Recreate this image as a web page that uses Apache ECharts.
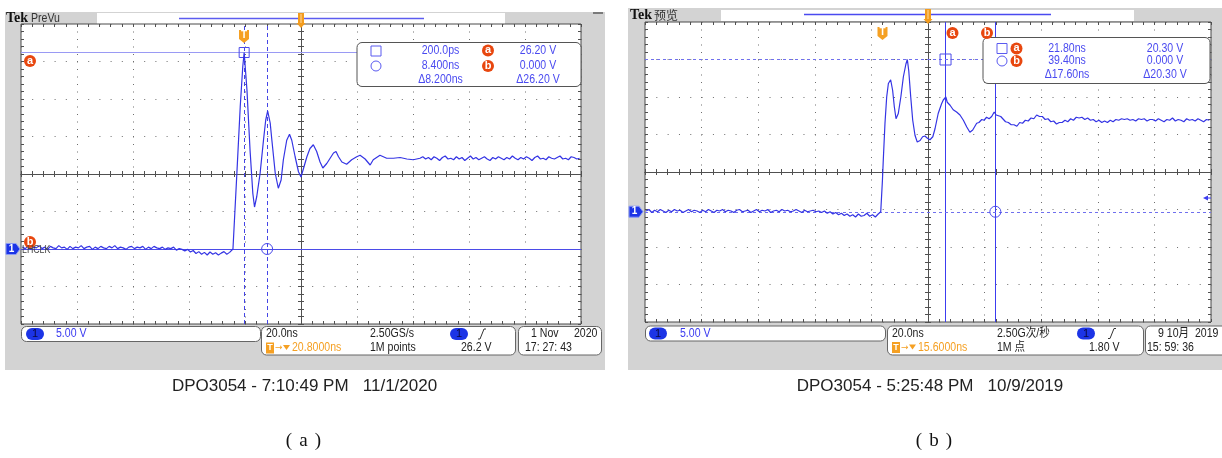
<!DOCTYPE html>
<html><head><meta charset="utf-8">
<script src="https://cdn.jsdelivr.net/npm/echarts@6/dist/echarts.min.js"></script>
<style>html,body{margin:0;padding:0;background:#fff}#c{width:1222px;height:458px}</style>
</head><body><div id="c"></div><script>
// ---------- DATA ----------
// (a) left scope: time in ns, voltage in V
const leftFlatT = [-79,-78,-77,-76,-75,-74,-73,-72,-71,-70,-69,-68,-67,-66,-65,-64,-63,-62,-61,-60,-59,-58,-57,-56,-55,-54,-53,-52,-51,-50,-49,-48,-47,-46,-45,-44,-43,-42,-41,-40,-39,-38,-37,-36,-35,-34,-33,-32,-31,-30,-29,-28,-27,-26,-25,-24,-23,-22,-21,-20,-19,-18,-17,-16,-15,-14,-13,-12,-11,-10,-9,-8,-7,-6,-5];
const leftFlatV = [0.25,0.05,0.35,-0.05,0.25,0.15,0.45,0.05,0.25,-0.05,0.35,0.15,0.05,0.45,0.15,0.25,-0.05,0.35,0.05,0.25,0.15,0.45,0.05,0.25,0.35,-0.05,0.25,0.05,0.35,0.15,0.05,0.35,0.15,0.45,0.05,0.25,0.15,-0.05,0.25,0.35,0.05,0.25,0.15,0.35,-0.05,0.25,0.05,0.35,0.15,0.05,0.25,-0.05,0.15,0.05,0.25,-0.15,0.05,-0.05,-0.25,-0.05,-0.4,-0.2,-0.6,-0.35,-0.7,-0.45,-0.8,-0.4,-0.7,-0.5,-0.8,-0.55,-0.35,-0.7,-0.45];
const leftEdgeT = [-3.8,-2.4,-1.2,-0.3,0.2,1.2,2.3,3.3,3.9,4.7,5.9,7.1,7.9,8.6,9.5,10.1,11.3,12.4,13.4,14.2,15.4,16.4,17.2,18.4,19.6,20.5,21.6,22.6,23.7,24.9,26.1,27.3,28.3,29.7,30.9,32.1,33.0,33.9,35.1,36.8,38.6,40.4,41.6,43.4,45.2,46.3,48.7,51.1,53.5,55.9,58.3,60.6,63.0];
const leftEdgeV = [0.0,10.1,19.0,24.3,26.2,21.2,13.2,7.4,5.6,7.0,10.1,14.5,17.2,18.4,16.8,14.5,10.1,8.1,9.2,11.9,14.5,15.3,14.5,12.3,10.3,9.6,11.0,12.3,13.4,13.9,13.0,11.6,10.8,11.4,12.1,12.8,13.0,12.3,11.6,11.3,11.9,12.3,12.5,12.0,11.2,11.9,12.5,12.1,12.1,12.2,12.0,11.9,12.1];
const leftTailT = [64,65,66,67,68,69,70,71,72,73,74,75,76,77,78,79,80,81,82,83,84,85,86,87,88,89,90,91,92,93,94,95,96,97,98,99,100,101,102,103,104,105,106,107,108,109,110,111,112,113,114,115,116,117,118,119,120];
const leftTailV = [12.3,12.0,12.2,11.9,12.3,12.1,11.8,12.2,12.4,12.0,12.1,11.9,12.3,12.0,12.2,11.8,12.1,12.4,12.0,12.2,11.9,12.1,12.3,12.0,11.8,12.2,12.0,12.3,12.1,11.9,12.2,12.0,12.4,12.1,11.9,12.2,12.0,12.3,12.1,11.8,12.2,12.4,12.0,12.1,11.9,12.3,12.1,12.0,12.2,12.4,12.0,12.1,11.9,12.3,12.2,12.0,12.1];
const leftCursorT = [0.2, 8.4];
const leftCursorV = [26.2, 0.0];
const leftTimeRange = [-79.5, 120.5];
const leftVoltRange = [-10, 30];

// (b) right scope
const rightFlatT = [-84,-83,-82,-81,-80,-79,-78,-77,-76,-75,-74,-73,-72,-71,-70,-69,-68,-67,-66,-65,-64,-63,-62,-61,-60,-59,-58,-57,-56,-55,-54,-53,-52,-51,-50,-49,-48,-47,-46,-45,-44,-43,-42,-41,-40,-39,-38,-37,-36,-35,-34,-33,-32,-31,-30,-29,-28,-27,-26,-25,-24,-23,-22,-21,-20,-19,-18,-17,-16,-15,-14,-13,-12,-11,-10,-9,-8,-7,-6,-5,-4,-3,-2];
const rightFlatV = [0.1,0.3,-0.1,0.2,0.0,0.3,0.1,-0.1,0.2,0.0,0.3,0.1,0.2,-0.1,0.1,0.3,0.0,0.2,0.1,-0.1,0.2,0.0,0.3,0.1,-0.1,0.2,0.1,0.3,0.0,0.2,0.1,-0.1,0.2,0.3,0.0,0.1,0.2,-0.1,0.1,0.3,0.0,0.2,0.1,0.3,-0.1,0.1,0.2,0.0,0.3,0.1,0.2,0.0,0.1,0.3,0.1,-0.1,0.2,0.0,0.1,0.2,0.0,0.1,-0.1,0.1,-0.2,0.0,-0.3,-0.1,-0.4,-0.2,-0.5,-0.3,-0.6,-0.4,-0.7,-0.3,-0.6,-0.5,-0.2,-0.6,-0.4,-0.7,-0.3];
const rightEdgeT = [-1.1,-0.5,-0.2,0.4,1.0,1.6,2.4,3.1,3.7,4.3,5.1,6.0,6.9,7.8,8.3,8.8,9.5,10.2,11.0,11.8,12.8,13.7,14.5,15.4,16.3,17.3,18.1,19.2,20.4,21.0,21.9,22.4,23.4,24.5,25.7,26.9,28.1,29.3,30.4,31.4,32.8,33.6,34.6,35.4,36.3,37.2,38.1,39.0,39.7,40.4,41.3];
const rightEdgeV = [0.0,4.2,6.9,11.8,15.3,17.1,17.6,16.2,14.0,12.4,13.1,15.3,18.0,19.7,20.3,18.8,15.3,12.2,10.2,9.3,9.5,10.0,10.1,9.8,9.6,10.0,11.1,13.1,14.4,14.9,15.3,14.6,14.2,13.6,13.3,12.9,12.2,11.3,10.6,10.9,11.8,11.9,12.3,12.2,12.6,12.4,12.7,13.3,12.9,13.1,12.7];
const rightTailT = [42,43,44,45,46,47,48,49,50,51,52,53,54,55,56,57,58,59,60,61,62,63,64,65,66,67,68,69,70,71,72,73,74,75,76,77,78,79,80,81,82,83,84,85,86,87,88,89,90,91,92,93,94,95,96,97,98,99,100,101,102,103,104,105,106,107,108,109,110,111,112,113,114,115];
const rightTailV = [12.5,12.0,11.9,11.6,11.6,11.4,11.9,11.8,12.2,12.1,12.5,12.4,12.9,12.7,12.7,12.3,12.4,12.0,12.1,11.7,11.9,11.9,12.2,12.0,12.4,12.2,12.6,12.5,12.6,12.3,12.5,12.2,12.3,12.0,12.2,11.9,12.1,11.9,12.2,12.0,12.3,12.2,12.4,12.3,12.4,12.2,12.3,12.1,12.4,12.3,12.4,12.1,12.3,12.3,12.1,12.4,12.2,12.0,12.3,12.2,12.5,12.1,12.3,12.2,12.0,12.4,12.2,12.3,12.1,12.4,12.2,12.0,12.3,12.2];
const rightCursorT = [21.8, 39.4];
const rightCursorV = [20.3, 0.0];
const rightTimeRange = [-84.4, 115.6];
const rightVoltRange = [-14.7, 25.3];

// readout texts
const leftReadTime = ['200.0ps', '8.400ns', '\u03948.200ns'];
const leftReadVolt = ['26.20 V', '0.000 V', '\u039426.20 V'];
const rightReadTime = ['21.80ns', '39.40ns', '\u039417.60ns'];
const rightReadVolt = ['20.30 V', '0.000 V', '\u039420.30 V'];

// ---------- BUILD ----------
function pairs(ts, vs) { return ts.map((t, i) => [t, vs[i]]); }
const leftData = pairs(leftFlatT, leftFlatV).concat(pairs(leftEdgeT, leftEdgeV), pairs(leftTailT, leftTailV));
const rightData = pairs(rightFlatT, rightFlatV).concat(pairs(rightEdgeT, rightEdgeV), pairs(rightTailT, rightTailV));

const SF = '"Liberation Sans",Arial,sans-serif';
const CJK = '"Liberation Sans","Noto Sans CJK SC",sans-serif';
const LINE = '#505050', DOT = '#6e6e6e';

function gratX(g, yCenterIdx, xr) {
  const tick = {show: true, length: 3, lineStyle: {color: LINE}};
  const minor = {show: true, splitNumber: 5, length: 3, lineStyle: {color: LINE}};
  const btick = {show: true, inside: true, length: 3, lineStyle: {color: LINE}};
  const bminor = {show: true, splitNumber: 5, length: 3, lineStyle: {color: LINE}};
  return [
    {gridIndex: g, type: 'value', min: xr[0], max: xr[1], show: false},
    {gridIndex: g, type: 'value', min: -5, max: 5, interval: 1, position: 'bottom',
     axisLine: {show: true, onZero: true, onZeroAxisIndex: yCenterIdx, lineStyle: {color: LINE, width: 1}},
     axisTick: tick, minorTick: minor, axisLabel: {show: false},
     splitLine: {show: true, lineStyle: {color: DOT, width: 1, type: [1, 6.5]}}},
    {gridIndex: g, type: 'value', min: -5, max: 5, interval: 1, position: 'top',
     axisLine: {show: true, onZero: true, onZeroAxisIndex: yCenterIdx, lineStyle: {color: LINE, width: 1}},
     axisTick: tick, minorTick: minor, axisLabel: {show: false}, splitLine: {show: false}},
    {gridIndex: g, type: 'value', min: -5, max: 5, interval: 1, position: 'bottom',
     axisLine: {show: false, onZero: false}, axisTick: btick, minorTick: bminor, axisLabel: {show: false}, splitLine: {show: false}},
    {gridIndex: g, type: 'value', min: -5, max: 5, interval: 1, position: 'top',
     axisLine: {show: false, onZero: false}, axisTick: btick, minorTick: bminor, axisLabel: {show: false}, splitLine: {show: false}}
  ];
}
function gratY(g, xCenterIdx, yr, dashW) {
  const tick = {show: true, length: 3, lineStyle: {color: LINE}};
  const minor = {show: true, splitNumber: 5, length: 3, lineStyle: {color: LINE}};
  const btick = {show: true, inside: true, length: 3, lineStyle: {color: LINE}};
  const bminor = {show: true, splitNumber: 5, length: 3, lineStyle: {color: LINE}};
  return [
    {gridIndex: g, type: 'value', min: yr[0], max: yr[1], show: false},
    {gridIndex: g, type: 'value', min: -4, max: 4, interval: 1, position: 'left',
     axisLine: {show: true, onZero: true, onZeroAxisIndex: xCenterIdx, lineStyle: {color: LINE, width: 1}},
     axisTick: tick, minorTick: minor, axisLabel: {show: false},
     splitLine: {show: true, lineStyle: {color: DOT, width: 1, type: [1, dashW]}}},
    {gridIndex: g, type: 'value', min: -4, max: 4, interval: 1, position: 'right',
     axisLine: {show: true, onZero: true, onZeroAxisIndex: xCenterIdx, lineStyle: {color: LINE, width: 1}},
     axisTick: tick, minorTick: minor, axisLabel: {show: false}, splitLine: {show: false}},
    {gridIndex: g, type: 'value', min: -4, max: 4, interval: 1, position: 'left',
     axisLine: {show: false, onZero: false}, axisTick: btick, minorTick: bminor, axisLabel: {show: false}, splitLine: {show: false}},
    {gridIndex: g, type: 'value', min: -4, max: 4, interval: 1, position: 'right',
     axisLine: {show: false, onZero: false}, axisTick: btick, minorTick: bminor, axisLabel: {show: false}, splitLine: {show: false}}
  ];
}

// ---------- graphic helpers ----------
const G = [];
function txt(x, y, text, o) {
  o = o || {};
  G.push({type: 'text', x: x, y: y, z: o.z || 60, silent: true, scaleX: o.sx == null ? 0.88 : o.sx,
    style: {text: text, fill: o.c || '#222', font: (o.w || 'normal') + ' ' + (o.s || 12) + 'px ' + (o.f || SF),
      align: o.a || 'left', textAlign: o.a || 'left', verticalAlign: 'middle', textVerticalAlign: 'middle'}});
}
function rect(x, y, w, h, o) {
  o = o || {};
  G.push({type: 'rect', z: o.z || 50, silent: true, shape: {x: x, y: y, width: w, height: h, r: o.r || 0},
    style: {fill: o.fill || null, stroke: o.stroke || null, lineWidth: o.lw || 1}});
}
function circ(cx, cy, r, o) {
  G.push({type: 'circle', z: o.z || 60, silent: true, shape: {cx: cx, cy: cy, r: r},
    style: {fill: o.fill || null, stroke: o.stroke || null, lineWidth: o.lw || 1}});
}
function poly(pts, o) {
  G.push({type: o.line ? 'polyline' : 'polygon', z: o.z || 60, silent: true, shape: {points: pts},
    style: {fill: o.line ? null : (o.fill || null), stroke: o.stroke || null, lineWidth: o.lw || 1}});
}
function badge(cx, cy, letter) {
  circ(cx, cy, 6, {fill: '#e8470f', z: 70});
  txt(cx, cy - 0.5, letter, {c: '#fff', w: 'bold', s: 11, a: 'center', z: 71, sx: 1});
}
function tBadge(cx, cy) {
  poly([[cx - 5, cy - 6], [cx + 5, cy - 6], [cx + 5, cy + 3], [cx, cy + 7], [cx - 5, cy + 3]], {fill: '#f5a023', z: 70});
  txt(cx, cy - 0.5, 'T', {c: '#fff', w: 'bold', s: 10, a: 'center', z: 71, sx: 1});
}
function topTrig(cx, y0) {
  rect(cx - 3, y0, 6, 11, {fill: '#f39c1e', z: 70});
  G.push({type: 'line', z: 71, silent: true, shape: {x1: cx, y1: y0 + 1, x2: cx, y2: y0 + 10}, style: {stroke: '#ffd9a0', lineWidth: 1}});
  poly([[cx - 4.5, y0 + 10], [cx + 4.5, y0 + 10], [cx, y0 + 15]], {fill: '#f39c1e', z: 70});
}
function pill(cx, cy) {
  G.push({type: 'rect', z: 60, silent: true, shape: {x: cx - 9, y: cy - 6, width: 18, height: 12, r: 6}, style: {fill: '#1c34e6'}});
  txt(cx, cy, '1', {c: '#0a0a40', s: 11, a: 'center', z: 61, sx: 1});
}
function edgeSym(x, y) {
  poly([[x, y + 5], [x + 2, y + 5], [x + 6, y - 5], [x + 8, y - 5]], {line: true, stroke: '#333', lw: 1, z: 61});
}
function tIcon(x, y) {
  rect(x, y - 5.5, 8, 11, {fill: '#f5a023', z: 60});
  txt(x + 4, y, 'T', {c: '#fff', w: 'bold', s: 9, a: 'center', z: 61, sx: 1});
  txt(x + 9, y, '\u2192', {c: '#f5a023', s: 9, z: 61, f: '"DejaVu Sans",sans-serif', sx: 1});
  poly([[x + 17, y - 3], [x + 24, y - 3], [x + 20.5, y + 2]], {fill: '#f5a023', z: 61});
}
function gndMarker(x, cy) {
  poly([[x, cy - 5.5], [x + 10, cy - 5.5], [x + 14, cy], [x + 10, cy + 5.5], [x, cy + 5.5]], {fill: '#1c34e6', stroke: '#8a9af5', z: 70});
  txt(x + 5.5, cy, '1', {c: '#fff', s: 10, a: 'center', z: 71, w: 'bold', sx: 1});
}

// ----- left scope frame -----
rect(5, 12, 600, 358, {fill: '#d3d3d3', z: -20});
rect(21, 24, 560, 300, {fill: '#ffffff', z: -19});
txt(6, 18.5, 'Tek', {c: '#111', w: 'bold', s: 14, f: '"Liberation Serif",serif', z: 5, sx: 1});
txt(31, 18.5, 'PreVu', {c: '#333', s: 12, z: 5});
rect(97, 13, 408, 11, {fill: '#fff', z: -18});
G.push({type: 'line', z: 5, silent: true, shape: {x1: 179, y1: 18.5, x2: 424, y2: 18.5}, style: {stroke: '#5c5cf0', lineWidth: 1.5}});
rect(593, 12, 10, 2, {fill: '#7a7a7a', z: 5});
topTrig(301, 13);
tBadge(244, 36);
badge(30, 61, 'a');
gndMarker(6, 249);
badge(30, 242, 'b');
txt(22, 250, 'LHCLK', {c: '#444', s: 10, z: 72});
// legend box left
rect(357, 42.5, 224, 44, {fill: '#fff', stroke: '#555', r: 5, z: 50});
rect(371, 46, 10, 10, {stroke: '#5a5af0', z: 60});
circ(376, 66, 5, {stroke: '#5a5af0', z: 60});
badge(488, 50.5, 'a');
badge(488, 66, 'b');
[50.5, 66, 79.5].forEach((y, i) => {
  txt(440.5, y, leftReadTime[i], {c: '#4a4af0', a: 'center'});
  txt(538, y, leftReadVolt[i], {c: '#4a4af0', a: 'center'});
});
// bottom boxes left
rect(21.5, 326.5, 239, 15, {fill: '#fff', stroke: '#666', r: 5, z: 50});
pill(35, 334);
txt(56, 334, '5.00 V', {c: '#3b3bf0'});
rect(261.5, 326.5, 254, 28.5, {fill: '#fff', stroke: '#666', r: 5, z: 50});
txt(266, 334, '20.0ns');
txt(370, 334, '2.50GS/s');
pill(459, 334);
edgeSym(478, 334);
tIcon(266, 348);
txt(292, 348, '20.8000ns', {c: '#f5a023'});
txt(370, 348, '1M points');
txt(461, 348, '26.2 V');
rect(518.5, 326.5, 83, 28.5, {fill: '#fff', stroke: '#666', r: 5, z: 50});
txt(531, 334, '1 Nov');
txt(574, 334, '2020');
txt(525, 348, '17: 27: 43');

// ----- right scope frame -----
rect(628, 8, 600, 362, {fill: '#d3d3d3', z: -20});
rect(645, 22, 566, 300, {fill: '#ffffff', z: -19});
txt(630, 15.5, 'Tek', {c: '#111', w: 'bold', s: 14, f: '"Liberation Serif",serif', z: 5, sx: 1});
txt(654, 15.5, '\u9884\u89c8', {c: '#333', s: 12, f: '"Noto Sans CJK SC",sans-serif', z: 5, sx: 1});
rect(721, 10, 413, 11, {fill: '#fff', z: -18});
G.push({type: 'line', z: 5, silent: true, shape: {x1: 804, y1: 14.5, x2: 1051, y2: 14.5}, style: {stroke: '#4a4af0', lineWidth: 1.5}});
topTrig(928, 9);
tBadge(882.5, 33);
badge(952.5, 33, 'a');
badge(987, 33, 'b');
gndMarker(629, 211.7);
poly([[1203, 198], [1208, 195.5], [1208, 200.5]], {fill: '#3c3cf0', z: 72});
G.push({type: 'line', z: 72, silent: true, shape: {x1: 1207, y1: 198, x2: 1211, y2: 198}, style: {stroke: '#3c3cf0', lineWidth: 1}});
// legend box right
rect(983, 37.5, 227, 46, {fill: '#fff', stroke: '#555', r: 5, z: 50});
rect(997, 43.5, 10, 10, {stroke: '#5a5af0', z: 60});
circ(1002, 61, 5, {stroke: '#5a5af0', z: 60});
badge(1016.5, 48.5, 'a');
badge(1016.5, 61, 'b');
[48.5, 61, 75].forEach((y, i) => {
  txt(1067, y, rightReadTime[i], {c: '#4a4af0', a: 'center'});
  txt(1165, y, rightReadVolt[i], {c: '#4a4af0', a: 'center'});
});
// bottom boxes right
rect(645.5, 326, 240, 15, {fill: '#fff', stroke: '#666', r: 5, z: 50});
pill(658, 333.5);
txt(680, 333.5, '5.00 V', {c: '#3b3bf0'});
rect(887.5, 326, 256, 29, {fill: '#fff', stroke: '#666', r: 5, z: 50});
txt(892, 333.5, '20.0ns');
txt(997, 333.5, '2.50G\u6b21/\u79d2', {f: CJK});
pill(1086, 333.5);
edgeSym(1108, 333.5);
tIcon(892, 347.5);
txt(918, 347.5, '15.6000ns', {c: '#f5a023'});
txt(997, 347.5, '1M \u70b9', {f: CJK});
txt(1089, 347.5, '1.80 V');
rect(1145.5, 326, 90, 29, {fill: '#fff', stroke: '#666', r: 5, z: 50});
txt(1158, 333.5, '9 10\u6708  2019', {f: CJK});
txt(1147, 347.5, '15: 59: 36');

// captions
txt(304.5, 386, 'DPO3054 - 7:10:49 PM   11/1/2020', {s: 17, a: 'center', c: '#222', sx: 1});
txt(930, 386, 'DPO3054 - 5:25:48 PM   10/9/2019', {s: 17, a: 'center', c: '#222', sx: 1});
[[289, '('], [303.5, 'a'], [318, ')']].forEach(p => txt(p[0], 441, p[1], {s: 19, a: 'center', c: '#111', f: '"Liberation Serif",serif', sx: 1}));
[[919, '('], [934, 'b'], [949, ')']].forEach(p => txt(p[0], 441, p[1], {s: 19, a: 'center', c: '#111', f: '"Liberation Serif",serif', sx: 1}));

// ---------- OPTION ----------
const traceColor = '#3434e4';
const option = {
  animation: false,
  backgroundColor: '#ffffff',
  grid: [
    {left: 21, top: 24, width: 560, height: 300, show: true, borderColor: '#4a4a4a', borderWidth: 1, backgroundColor: 'transparent'},
    {left: 645, top: 22, width: 566, height: 300, show: true, borderColor: '#4a4a4a', borderWidth: 1, backgroundColor: 'transparent'}
  ],
  xAxis: gratX(0, 1, leftTimeRange).concat(gratX(1, 6, rightTimeRange)),
  yAxis: gratY(0, 1, leftVoltRange, 10.2).concat(gratY(1, 6, rightVoltRange, 10.32)),
  graphic: {elements: G},
  series: [
    {type: 'line', name: 'a', xAxisIndex: 0, yAxisIndex: 0, data: leftData, showSymbol: false, symbol: 'none',
     lineStyle: {color: traceColor, width: 1.2}, z: 10,
     markLine: {silent: true, symbol: ['none', 'none'], label: {show: false},
       data: [
         {xAxis: leftCursorT[0], lineStyle: {color: '#4545e6', type: [4, 3], width: 1}},
         {xAxis: leftCursorT[1], lineStyle: {color: '#4545e6', type: [4, 3], width: 1}},
         {yAxis: leftCursorV[0], lineStyle: {color: '#9a9af4', type: 'solid', width: 1.2}},
         {yAxis: leftCursorV[1], lineStyle: {color: '#4b4be8', type: 'solid', width: 1}}
       ]},
     markPoint: {silent: true, label: {show: false},
       data: [
         {coord: [leftCursorT[0], leftCursorV[0]], symbol: 'rect', symbolSize: 10, itemStyle: {color: 'rgba(0,0,0,0)', borderColor: '#4b4bea', borderWidth: 1}},
         {coord: [leftCursorT[1], leftCursorV[1]], symbol: 'circle', symbolSize: 11, itemStyle: {color: 'rgba(0,0,0,0)', borderColor: '#4b4bea', borderWidth: 1}}
       ]}},
    {type: 'line', name: 'b', xAxisIndex: 5, yAxisIndex: 5, data: rightData, showSymbol: false, symbol: 'none',
     lineStyle: {color: traceColor, width: 1.2}, z: 10,
     markLine: {silent: true, symbol: ['none', 'none'], label: {show: false},
       data: [
         {xAxis: rightCursorT[0], lineStyle: {color: '#3c3cf0', type: 'solid', width: 1}},
         {xAxis: rightCursorT[1], lineStyle: {color: '#3c3cf0', type: 'solid', width: 1}},
         {yAxis: rightCursorV[0], lineStyle: {color: '#7070ee', type: [3, 3], width: 1}},
         {yAxis: rightCursorV[1], lineStyle: {color: '#7070ee', type: [3, 3], width: 1}}
       ]},
     markPoint: {silent: true, label: {show: false},
       data: [
         {coord: [rightCursorT[0], rightCursorV[0]], symbol: 'rect', symbolSize: 11, itemStyle: {color: 'rgba(0,0,0,0)', borderColor: '#4b4bea', borderWidth: 1}},
         {coord: [rightCursorT[1], rightCursorV[1]], symbol: 'circle', symbolSize: 11, itemStyle: {color: 'rgba(0,0,0,0)', borderColor: '#4b4bea', borderWidth: 1}}
       ]}}
  ]
};
const chart = echarts.init(document.getElementById('c'), null, {renderer: 'canvas'});
chart.setOption(option);
</script></body></html>
